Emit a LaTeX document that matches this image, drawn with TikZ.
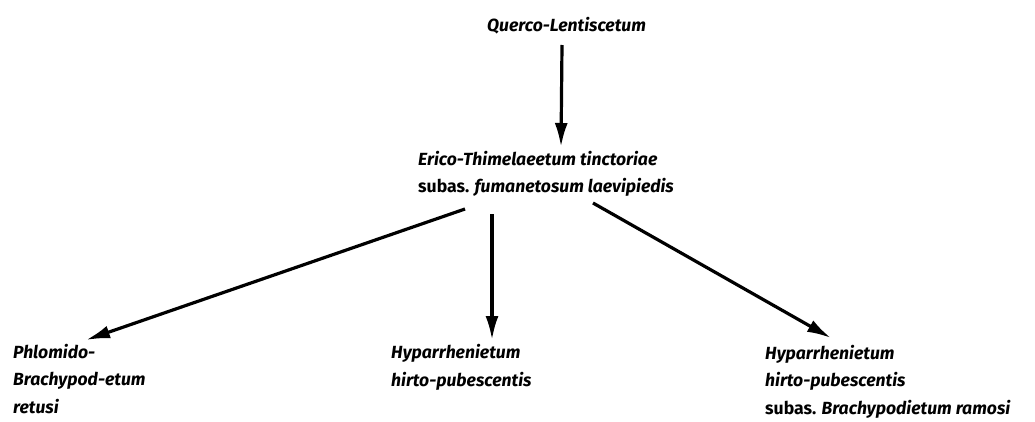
\documentclass[tikz,border=0pt]{standalone}
\usepackage{fontspec}
\setmainfont{Fira Sans}
\usetikzlibrary{arrows.meta}
\tikzset{
  lbl/.style={font=\fontsize{17.6}{27.5}\selectfont\bfseries\itshape, inner sep=0pt, align=left, anchor=base west},
  arr/.style={line width=3.2pt, -{Latex[length=24pt,width=13pt]}}
}
\newcommand{\sbs}{{\upshape subas.}}
\begin{document}
\begin{tikzpicture}[x=1pt,y=-1pt]
\useasboundingbox (0,0) rectangle (1035,422);
\node[lbl] (q) at (487,32) {Querco-Lentiscetum};
\node[lbl] (e) at (418,193) {Erico-Thimelaeetum tinctoriae\\\sbs{} fumanetosum laevipiedis};
\node[lbl] (p) at (13,413) {Phlomido-\\Brachypod-etum\\retusi};
\node[lbl] (h) at (391,386) {Hyparrhenietum\\hirto-pubescentis};
\node[lbl] (r) at (765,414) {Hyparrhenietum\\hirto-pubescentis\\\sbs{} Brachypodietum ramosi};
\coordinate (q1) at (562,45);
\coordinate (q2) at (561,147);
\draw[arr] (q1) -- (q2);
\coordinate (l1) at (465,209);
\coordinate (l2) at (86,340);
\draw[arr] (l1) -- (l2);
\coordinate (m1) at (492,214);
\coordinate (m2) at (492,340);
\draw[arr] (m1) -- (m2);
\coordinate (r1) at (593,203);
\coordinate (r2) at (831,338);
\draw[arr] (r1) -- (r2);
\end{tikzpicture}
\end{document}
